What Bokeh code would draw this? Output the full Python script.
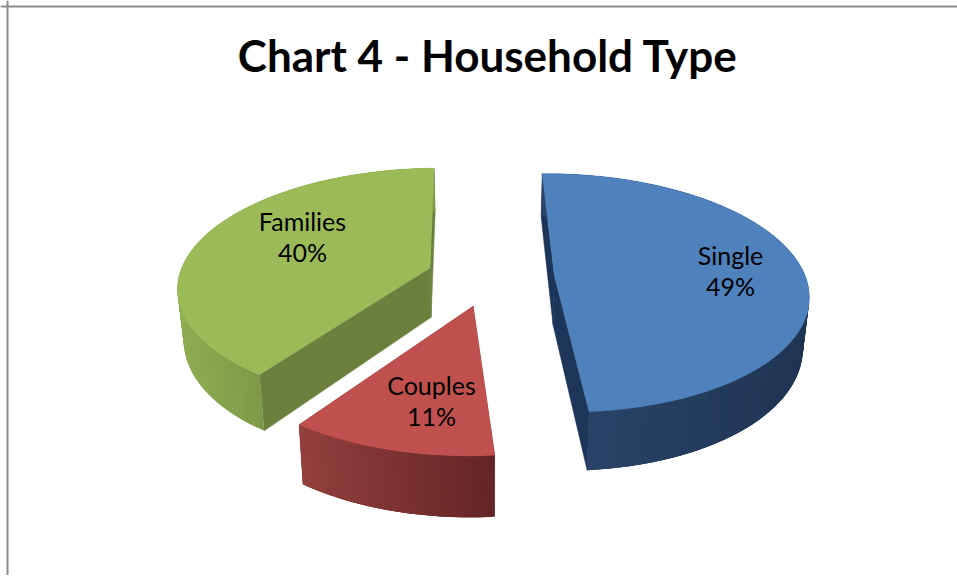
import math
from bokeh.plotting import figure
from bokeh.models import Span, ColumnDataSource
from bokeh.core.properties import value
from bokeh.embed import file_html
from bokeh.resources import INLINE

# ---- data ----
title = "Chart 4 - Household Type"
categories = ["Single", "Couples", "Families"]
shares = [49, 11, 40]

# ---- styles ----
top_colors = ["#4F81BD", "#C0504D", "#9BBB59"]
wall_near = ["#1C3558", "#6A2828", "#6A803C"]     # flat radial walls
wall_stops = [("#284468", "#1F3452"), ("#93403D", "#632525"), ("#8FAE52", "#7E9A48")]
FONT = "Lato"

# projection of the tilted pie, in page pixels
W, H = 957, 575
CX, CY = 490.0, 276.0
RX, RY = 251.0, 117.0
K = 0.15
EXPLODE = 0.255
START = -1.0
DEPTH = 50.0
SHRINK = 0.98
N = 80


def project(u, v):
    s = 1.0 / (1.0 + K * v)
    return CX + RX * u * s, CY - RY * v * s, s


def bottom(u, v):
    x, y, s = project(u, v)
    return CX + (x - CX) * SHRINK, y + DEPTH * s


def mix(a, b, t):
    ca = [int(a[i:i + 2], 16) for i in (1, 3, 5)]
    cb = [int(b[i:i + 2], 16) for i in (1, 3, 5)]
    return "#%02x%02x%02x" % tuple(round(p + (q - p) * t) for p, q in zip(ca, cb))


p = figure(width=W, height=H, output_backend="svg", toolbar_location=None,
           x_range=(0, W), y_range=(H, 0), min_border=0, tools="")
p.axis.visible = False
p.grid.visible = False
p.outline_line_color = None
p.background_fill_color = "white"

p.add_layout(Span(location=6, dimension="width", line_color="#8C8C8C", line_width=2))
p.add_layout(Span(location=7, dimension="height", line_color="#8C8C8C", line_width=2))

total = sum(shares)
angle = START
order = []
for i, share in enumerate(shares):
    span = 360.0 * share / total
    order.append((i, angle, span))
    angle += span

for i, a0, span in [order[2], order[0], order[1]]:
    mid = math.radians(a0 + span / 2)
    ou, ov = EXPLODE * math.sin(mid), EXPLODE * math.cos(mid)
    thetas = [math.radians(a0 + span * j / N) for j in range(N + 1)]
    arc = [(ou + math.sin(t), ov + math.cos(t)) for t in thetas]

    # flat radial walls
    for end in (arc[0], arc[-1]):
        pts = [project(ou, ov)[:2], project(*end)[:2], bottom(*end), bottom(ou, ov)]
        p.patch([q[0] for q in pts], [q[1] for q in pts], fill_color=wall_near[i],
                line_color=wall_near[i], line_width=0.5)

    # curved outer wall, shaded across the visible part
    xs, ys, cols = [], [], []
    visible = [j for j in range(N + 1) if arc[j][1] < ov + 0.25] or [0, N]
    lo, hi = min(project(*arc[j])[0] for j in visible), max(project(*arc[j])[0] for j in visible)
    for j in range(N):
        k = min(j + 3, N)
        a, b = arc[j], arc[k]
        pa, pb = project(*a), project(*b)
        qa, qb = bottom(*a), bottom(*b)
        xs.append([pa[0], pb[0], qb[0], qa[0]])
        ys.append([pa[1], pb[1], qb[1], qa[1]])
        t = min(max((pa[0] - lo) / (hi - lo), 0), 1)
        cols.append(mix(wall_stops[i][0], wall_stops[i][1], t))
    src = ColumnDataSource(dict(xs=xs, ys=ys, c=cols))
    p.patches("xs", "ys", source=src, fill_color="c", line_color=None)

    # top face
    face = [project(ou, ov)[:2]] + [project(*q)[:2] for q in arc]
    p.patch([q[0] for q in face], [q[1] for q in face], fill_color=top_colors[i],
            line_color=top_colors[i], line_width=0.5)

label_x = [730, 431, 302]
label_y = [254, 384, 220]
label_gap = 31
for name, share, x, y in zip(categories, shares, label_x, label_y):
    p.text([x, x], [y, y + label_gap], text=[name, f"{share}%"], text_font=value(FONT),
           text_font_size="25px", text_color="black", text_align="center",
           text_baseline="middle")

p.text([487.5], [54], text=[title], text_font=value(FONT), text_font_style="bold",
       text_font_size="44px", text_color="black", text_align="center", text_baseline="middle")

open("out.html", "w").write(file_html(p, INLINE))
